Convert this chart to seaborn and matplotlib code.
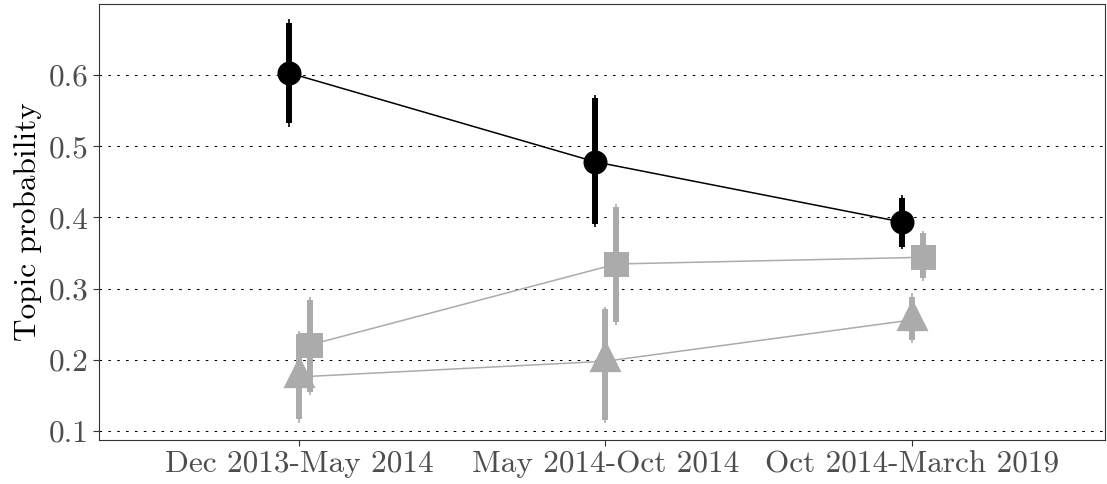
import numpy as np
import pandas as pd
import matplotlib
matplotlib.use("Agg")
import matplotlib.pyplot as plt
import seaborn as sns

# ---- data ----
periods = ["Dec 2013-May 2014", "May 2014-Oct 2014", "Oct 2014-March 2019"]
series = ["A", "B", "C"]  # circle (black), triangle (grey), square (grey)

est_A = [0.603, 0.478, 0.3935]
lo95_A = [0.527, 0.387, 0.3556]
hi95_A = [0.679, 0.572, 0.4315]
lo90_A = [0.533, 0.391, 0.3584]
hi90_A = [0.673, 0.5677, 0.4273]

est_B = [0.176, 0.198, 0.256]
lo95_B = [0.111, 0.111, 0.2236]
hi95_B = [0.240, 0.274, 0.294]
lo90_B = [0.117, 0.1154, 0.228]
hi90_B = [0.236, 0.271, 0.288]

est_C = [0.221, 0.3346, 0.344]
lo95_C = [0.1506, 0.249, 0.311]
hi95_C = [0.288, 0.419, 0.381]
lo90_C = [0.155, 0.253, 0.315]
hi90_C = [0.284, 0.415, 0.378]

yticks = [0.1, 0.2, 0.3, 0.4, 0.5, 0.6]
ylabel = "Topic probability"

# ---- styling ----
sns.set_theme(style="white")
plt.rcParams["font.family"] = ["cmr10", "DejaVu Serif"]
plt.rcParams["axes.formatter.use_mathtext"] = True
plt.rcParams["mathtext.fontset"] = "cm"

offsets = {"A": -0.033, "B": 0.0, "C": 0.036}
colors = {"A": "#000000", "B": "#ABABAB", "C": "#ABABAB"}
tri = [(0, 2 / 3), (-0.5, -1 / 3), (0.5, -1 / 3), (0, 2 / 3)]
markers = {"A": "o", "B": tri, "C": "s"}
sizes = {"A": 17.3 ** 2, "B": 30.7 ** 2, "C": 18.0 ** 2}

data = {
    "A": (est_A, lo95_A, hi95_A, lo90_A, hi90_A),
    "B": (est_B, lo95_B, hi95_B, lo90_B, hi90_B),
    "C": (est_C, lo95_C, hi95_C, lo90_C, hi90_C),
}
rows = []
for s in series:
    e, l95, h95, l90, h90 = data[s]
    for i, p in enumerate(periods):
        rows.append(dict(series=s, period=p, x=i + offsets[s], est=e[i],
                         lo95=l95[i], hi95=h95[i], lo90=l90[i], hi90=h90[i]))
df = pd.DataFrame(rows)

fig = plt.figure(figsize=(11.07, 4.84), dpi=100)
ax = fig.add_axes([99 / 1107, 44 / 484, (1105 - 99) / 1107, (440 - 4) / 484])

ax.yaxis.grid(True, color="black", linewidth=0.75, linestyle=(0, (2.5, 6)))
ax.set_axisbelow(True)

for s in ["B", "C", "A"]:
    d = df[df.series == s]
    sns.lineplot(data=d, x="x", y="est", ax=ax, color=colors[s], linewidth=1.1,
                 sort=False, estimator=None, zorder=2)
    ax.vlines(d["x"], d["lo95"], d["hi95"], color=colors[s], linewidth=1.2, zorder=3)
    ax.vlines(d["x"], d["lo90"], d["hi90"], color=colors[s], linewidth=4.3, zorder=3)
    sns.scatterplot(data=d, x="x", y="est", ax=ax, color=colors[s], marker=markers[s],
                    s=sizes[s], linewidth=0, zorder=4)

ax.set_xlim(-0.6525, 2.63)
ax.set_ylim(0.0874, 0.6997)
ax.set_xticks(range(len(periods)))
ax.set_xticklabels(periods)
ax.set_yticks(yticks)
ax.set_yticklabels([f"{v:.1f}" for v in yticks])
ax.set_xlabel("")
ax.set_ylabel(ylabel, fontsize=22.5, color="black", labelpad=5)
ax.tick_params(axis="both", labelsize=22.5, labelcolor="#4D4D4D", color="#333333",
               length=4.5, width=0.8, direction="out", pad=3)
ax.tick_params(axis="x", bottom=True)
ax.tick_params(axis="y", left=True)
for sp in ax.spines.values():
    sp.set_visible(True)
    sp.set_color("#333333")
    sp.set_linewidth(0.8)

fig.savefig("out.png", dpi=100)
